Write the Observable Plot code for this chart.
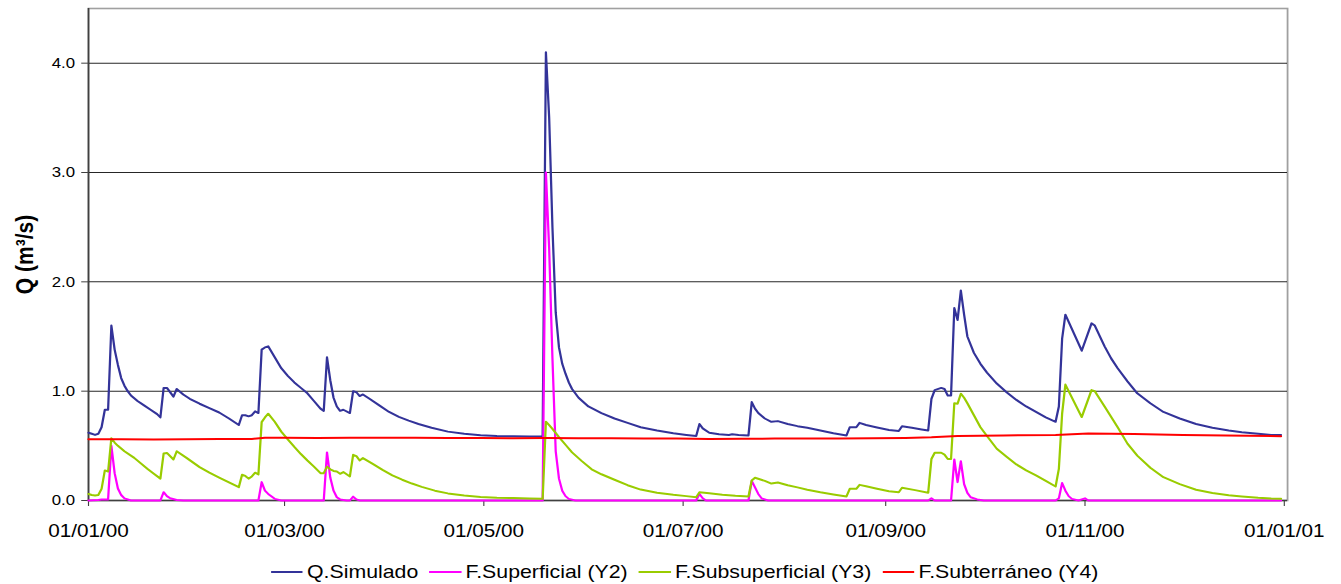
<!DOCTYPE html>
<html>
<head>
<meta charset="utf-8">
<script src="https://cdn.jsdelivr.net/npm/d3@7"></script>
<script src="https://cdn.jsdelivr.net/npm/@observablehq/plot@0.6"></script>
<style>
  html, body { margin: 0; padding: 0; background: #fff; }
  body { width: 1341px; height: 584px; overflow: hidden; font-family: "Liberation Sans", Arial, sans-serif; }
  #chart svg { display: block; }
  #legendWrap { width: 1341px; height: 36px; overflow: hidden; }
  #legend { transform-origin: 0 0; display: flex; align-items: center; padding-top: 12px; line-height: 24px; font-size: 19px; color: #000; white-space: nowrap; }
  #legend .item { display: flex; align-items: center; margin-right: 10px; }
  #legend .sw { display: inline-block; width: 28.6px; height: 2px; margin-right: 3.6px; }
</style>
</head>
<body>
<div id="chart"></div>
<div id="legendWrap"><div id="legend"></div></div>
<script>
// ---- Data (day offset from 01/01/2000, value in m3/s) ----
const seriesNames = ["Q.Simulado", "F.Superficial (Y2)", "F.Subsuperficial (Y3)", "F.Subterráneo (Y4)"];
const seriesColors = ["#333399", "#ff00ff", "#99cc00", "#ff0000"];
const yTicks = [0, 1, 2, 3, 4];
const xTickDates = ["2000-01-01", "2000-03-01", "2000-05-01", "2000-07-01", "2000-09-01", "2000-11-01", "2001-01-01"];
const yTitle = "Q (m³/s)";

const qDays = [0,1,2,3,4,5,6,7,8,9,10,11,12,13,15,17,19,21,22,23,24,26,27,29,31,34,37,40,43,46,47,48,49,50,51,52,53,54,55,57,59,61,63,65,67,69,71,72,73,74,75,76,77,78,80,81,82,83,84,86,89,92,95,98,101,105,110,115,120,125,130,135,139,140,141,142,143,144,145,146,147,148,150,153,157,161,165,169,174,179,183,186,187,188,190,193,196,197,199,202,203,204,205,207,209,211,214,217,220,224,228,232,233,235,236,238,241,245,248,249,252,255,257,258,259,261,262,263,264,265,266,267,268,269,271,273,275,278,281,284,287,290,293,296,297,298,299,304,307,308,311,313,315,318,321,325,329,334,339,344,349,353,358,362,365];
const qVals = [0.62,0.61,0.60,0.61,0.67,0.83,0.83,1.60,1.38,1.24,1.12,1.05,1.00,0.96,0.91,0.87,0.83,0.79,0.76,1.03,1.03,0.95,1.02,0.97,0.93,0.885,0.845,0.805,0.75,0.69,0.78,0.78,0.77,0.78,0.815,0.80,1.38,1.40,1.41,1.31,1.21,1.14,1.08,1.03,0.98,0.91,0.84,0.82,1.31,1.10,0.94,0.86,0.82,0.83,0.80,1.00,0.99,0.955,0.97,0.93,0.87,0.81,0.765,0.73,0.70,0.665,0.63,0.61,0.597,0.59,0.588,0.585,0.585,4.10,3.50,2.50,1.72,1.40,1.25,1.16,1.08,1.02,0.94,0.86,0.80,0.75,0.71,0.67,0.64,0.615,0.60,0.59,0.70,0.66,0.62,0.605,0.60,0.605,0.60,0.595,0.90,0.84,0.80,0.75,0.72,0.726,0.70,0.68,0.665,0.64,0.615,0.595,0.67,0.67,0.71,0.69,0.67,0.645,0.635,0.68,0.665,0.65,0.64,0.93,1.01,1.03,1.02,0.96,0.96,1.76,1.65,1.92,1.70,1.50,1.35,1.25,1.17,1.07,0.99,0.92,0.86,0.81,0.76,0.72,0.86,1.48,1.70,1.37,1.62,1.60,1.41,1.30,1.21,1.09,0.98,0.89,0.81,0.75,0.70,0.665,0.64,0.625,0.61,0.60,0.60];

const supDays = [0,3,4,6,7,8,9,10,11,13,22,23,24,25,27,29,52,53,54,55,57,59,72,73,74,75,76,77,79,80,81,82,83,139,140,141,142,143,144,145,146,147,149,186,187,188,189,202,203,204,205,206,208,257,258,259,264,265,266,267,268,269,270,272,274,296,297,298,299,300,301,303,305,306,365];
const supVals = [0,0.005,0.01,0.01,0.50,0.25,0.11,0.05,0.02,0,0,0.076,0.04,0.02,0.005,0,0,0.168,0.09,0.06,0.015,0,0,0.44,0.21,0.09,0.03,0.01,0,0,0.035,0.01,0,0,3.0,2.3,1.3,0.45,0.2,0.09,0.04,0.015,0,0,0.06,0.02,0,0,0.18,0.12,0.06,0.02,0,0,0.02,0,0,0.375,0.168,0.36,0.15,0.07,0.03,0.01,0,0,0.02,0.16,0.09,0.04,0.015,0,0.02,0,0];

const subDays = [0,1,2,3,4,5,6,7,8,9,11,14,18,20,22,23,24,26,27,30,34,37,40,43,46,47,48,49,50,51,52,53,54,55,57,59,61,63,65,67,69,71,72,73,74,75,76,77,78,80,81,82,83,84,87,90,93,96,99,102,106,110,115,120,125,130,135,139,140,141,142,144,146,148,151,154,157,161,165,169,174,179,183,186,187,190,194,198,202,203,204,207,209,211,214,217,220,224,228,232,233,235,236,238,241,245,248,249,253,257,258,259,261,262,263,264,265,266,267,268,269,271,273,275,278,281,284,287,290,293,296,297,298,299,304,307,308,311,315,318,321,325,329,334,339,344,349,353,358,362,365];
const subVals = [0.06,0.05,0.046,0.05,0.107,0.275,0.265,0.57,0.53,0.50,0.45,0.39,0.29,0.245,0.20,0.43,0.435,0.375,0.45,0.39,0.305,0.255,0.21,0.165,0.122,0.235,0.225,0.20,0.22,0.254,0.238,0.717,0.76,0.794,0.72,0.63,0.56,0.49,0.425,0.366,0.31,0.25,0.25,0.31,0.285,0.27,0.265,0.244,0.26,0.22,0.418,0.406,0.366,0.388,0.335,0.28,0.23,0.19,0.155,0.125,0.09,0.065,0.045,0.033,0.026,0.022,0.018,0.015,0.72,0.69,0.655,0.58,0.51,0.44,0.36,0.285,0.24,0.19,0.14,0.10,0.07,0.052,0.04,0.03,0.076,0.066,0.052,0.043,0.037,0.183,0.208,0.18,0.155,0.165,0.14,0.12,0.098,0.075,0.055,0.037,0.107,0.107,0.143,0.13,0.11,0.085,0.076,0.116,0.095,0.07,0.38,0.437,0.437,0.42,0.38,0.38,0.89,0.885,0.977,0.94,0.89,0.78,0.67,0.59,0.473,0.40,0.33,0.275,0.23,0.18,0.128,0.29,0.794,1.06,0.763,1.01,1.00,0.86,0.67,0.52,0.41,0.30,0.213,0.15,0.098,0.068,0.048,0.037,0.025,0.018,0.015];

const gwDays = [0,10,20,30,40,50,54,60,70,80,90,100,110,120,130,140,150,160,170,180,190,200,210,220,230,240,250,258,266,280,296,306,320,335,348,365];
const gwVals = [0.56,0.56,0.557,0.56,0.562,0.562,0.575,0.575,0.572,0.575,0.575,0.574,0.572,0.572,0.57,0.572,0.57,0.57,0.568,0.567,0.563,0.565,0.566,0.568,0.568,0.57,0.572,0.578,0.59,0.595,0.60,0.612,0.608,0.60,0.595,0.588];

// ---- Build tables ----
const start = new Date(Date.UTC(2000, 0, 1));
const end = new Date(Date.UTC(2001, 0, 2));
function table(days, vals, name) {
  return days.map((d, i) => ({ date: d3.utcDay.offset(start, d), value: vals[i], series: name }));
}
const dataSets = [
  table(qDays, qVals, seriesNames[0]),
  table(supDays, supVals, seriesNames[1]),
  table(subDays, subVals, seriesNames[2]),
  table(gwDays, gwVals, seriesNames[3])
];

// The reference chart is horizontally stretched; render narrower and stretch.
const W = 1341, H = 548, SX = 1.1203;
const W0 = Math.round(W / SX);
const font = '"Liberation Sans", Arial, sans-serif';
const xTicks = xTickDates.map(s => new Date(s + "T00:00:00Z"));

const plot = Plot.plot({
  width: W0,
  height: H,
  marginLeft: 78.5,
  marginRight: W0 - 1287 / SX,
  marginTop: 8,
  marginBottom: 48,
  style: { fontFamily: font, color: "#000", background: "#fff", overflow: "visible" },
  x: { type: "utc", domain: [start, end] },
  y: { domain: [0, 4.5] },
  color: { domain: seriesNames, range: seriesColors },
  marks: [
    Plot.frame({ stroke: "#a0a0a0", strokeWidth: 1.6 }),
    Plot.gridY(yTicks.filter(v => v > 0), { stroke: "#000", strokeOpacity: 0.85, strokeWidth: 1 }),
    Plot.ruleX([start], { stroke: "#404040", strokeWidth: 1.5 }),
    Plot.ruleY([0], { stroke: "#404040", strokeWidth: 1.5 }),
    Plot.axisY({ ticks: yTicks, tickFormat: d3.format(".1f"), tickSize: 6, tickPadding: 6, fontSize: 15, label: null, stroke: "#404040" }),
    Plot.axisX({ ticks: xTicks, tickFormat: d3.utcFormat("%d/%m/%y"), tickSize: 6, tickPadding: 17, fontSize: 18.5, label: null, stroke: "#404040" }),
    ...dataSets.map(ds => Plot.line(ds, { x: "date", y: "value", stroke: "series", strokeWidth: 2 })),
    Plot.text([yTitle], { frameAnchor: "left", textAnchor: "middle", lineAnchor: "middle", rotate: -90, dx: 22.5 - 78.5, fontWeight: "bold", fontSize: 21, fill: "#000" })
  ]
});

plot.setAttribute("width", W);
plot.setAttribute("height", H);
plot.setAttribute("preserveAspectRatio", "none");
plot.style.width = W + "px";
plot.style.height = H + "px";
plot.style.maxWidth = "none";
document.getElementById("chart").appendChild(plot);

// Legend (HTML), stretched the same way
const legend = document.getElementById("legend");
legend.style.transform = `scaleX(${SX})`;
legend.style.paddingLeft = (271 / SX) + "px";
seriesNames.forEach((name, i) => {
  const item = document.createElement("div");
  item.className = "item";
  const sw = document.createElement("span");
  sw.className = "sw";
  sw.style.background = seriesColors[i];
  const tx = document.createElement("span");
  tx.textContent = name;
  item.appendChild(sw);
  item.appendChild(tx);
  legend.appendChild(item);
});
</script>
</body>
</html>
